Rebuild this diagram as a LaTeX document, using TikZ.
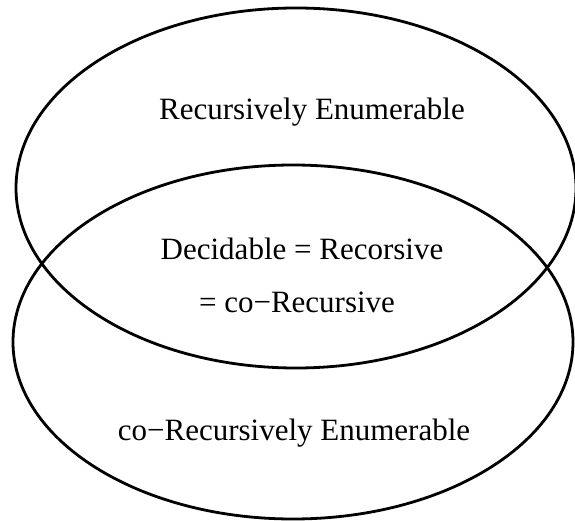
\documentclass[tikz,border=0pt]{standalone}
\usepackage{fontspec}
\setmainfont{Liberation Serif}
\begin{document}
\begin{tikzpicture}[x=1pt,y=-1pt,
  setline/.style={line width=2.8pt},
  lbl/.style={anchor=base,inner sep=0pt,font=\fontsize{31}{37}\selectfont}]
\useasboundingbox (0,0) rectangle (575,521);
\draw[setline] (296,188) ellipse [x radius=280, y radius=180];
\draw[setline] (293,342) ellipse [x radius=280, y radius=177];
\node[lbl] (re) at (312,120) {Recursively Enumerable};
\node[lbl] (dec) at (302,259) {Decidable = Recorsive};
\node[lbl] (cor) at (297,312) {= co−Recursive};
\node[lbl] (core) at (294,440) {co−Recursively Enumerable};
\end{tikzpicture}
\end{document}
